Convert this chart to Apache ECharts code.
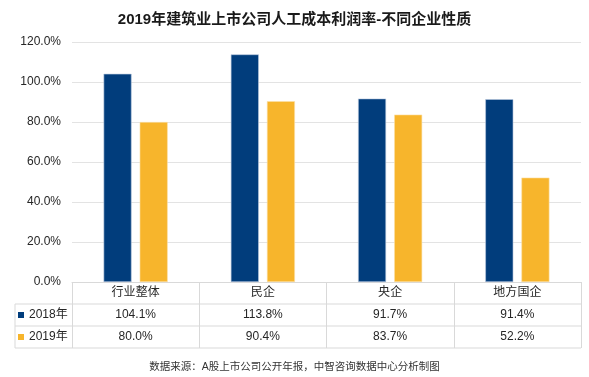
<!DOCTYPE html>
<html>
<head>
<meta charset="utf-8">
<script src="https://cdn.jsdelivr.net/npm/echarts@6/dist/echarts.min.js"></script>
<style>
  html, body { margin: 0; padding: 0; background: #fff; }
  #main { width: 589px; height: 377px; }
</style>
</head>
<body>
<div id="main"></div>
<script>
// chart data
const categories = ['行业整体', '民企', '央企', '地方国企'];
const seriesNames = ['2018年', '2019年'];
const values2018 = [104.1, 113.8, 91.7, 91.4];
const values2019 = [80.0, 90.4, 83.7, 52.2];
const yTicks = [0, 20, 40, 60, 80, 100, 120];

const FONT = "'Liberation Sans', 'Noto Sans CJK SC', sans-serif";
const BLUE = '#013d7c';
const YELLOW = '#f7b52c';
const LINE = '#d9d9d9';

const chart = echarts.init(document.getElementById('main'));

const gridLeft = 72, gridRight = 8, gridTop = 42, gridBottom = 95;
const rowH = 22;

const option = {
  backgroundColor: '#fff',
  animation: false,
  textStyle: { fontFamily: FONT },
  title: [{
    text: '2019年建筑业上市公司人工成本利润率-不同企业性质',
    left: 'center',
    top: 7,
    textStyle: { fontSize: 15, fontWeight: 'bold', color: '#1a1a1a', fontFamily: FONT }
  }, {
    text: '数据来源：A股上市公司公开年报，中智咨询数据中心分析制图',
    left: 'center',
    top: 357,
    textStyle: { fontSize: 10.5, fontWeight: 'normal', color: '#333', fontFamily: FONT }
  }],
  legend: {
    orient: 'vertical',
    left: 18,
    top: 308,
    padding: 0,
    icon: 'rect',
    itemWidth: 6,
    itemHeight: 6,
    itemGap: 8,
    itemStyle: { borderWidth: 0 },
    textStyle: { fontSize: 12, color: '#262626', lineHeight: 14, fontFamily: FONT },
    data: seriesNames
  },
  grid: { left: gridLeft, right: gridRight, top: gridTop, bottom: gridBottom },
  xAxis: {
    type: 'category',
    data: categories,
    axisLine: { show: true, lineStyle: { color: LINE, width: 1 } },
    axisTick: { show: true, length: rowH * 3, interval: 0, lineStyle: { color: LINE, width: 1 } },
    axisLabel: {
      interval: 0,
      margin: 0,
      formatter: function (v, i) {
        return '{c|' + v + '}\n{v|' + values2018[i].toFixed(1) + '%}\n{v|' + values2019[i].toFixed(1) + '%}';
      },
      rich: {
        c: { fontSize: 12, lineHeight: rowH, color: '#262626', fontFamily: FONT },
        v: { fontSize: 12, lineHeight: rowH, color: '#262626', fontFamily: FONT }
      }
    }
  },
  yAxis: {
    type: 'value',
    min: yTicks[0],
    max: yTicks[yTicks.length - 1],
    interval: 20,
    axisLine: { show: false },
    axisTick: { show: false },
    axisLabel: {
      margin: 11,
      fontSize: 12,
      color: '#262626',
      fontFamily: FONT,
      formatter: v => v.toFixed(1) + '%'
    },
    splitLine: { lineStyle: { color: '#e3e3e3', width: 1 } }
  },
  series: [{
    name: seriesNames[0],
    type: 'bar',
    data: values2018,
    barWidth: 28,
    barGap: '29%',
    itemStyle: { color: BLUE, borderColor: '#b8c8dd', borderWidth: 0.6 }
  }, {
    name: seriesNames[1],
    type: 'bar',
    data: values2019,
    barWidth: 28,
    barGap: '29%',
    itemStyle: { color: YELLOW, borderColor: '#fbe0a8', borderWidth: 0.6 }
  }]
};

chart.setOption(option);

// table borders under the plot
const x0 = 15;
const xR = 589 - gridRight;
const yAxisY = 377 - gridBottom;
const lines = [];
for (let r = 1; r <= 3; r++) {
  const y = yAxisY + rowH * r;
  lines.push({ type: 'line', shape: { x1: x0, y1: y, x2: xR, y2: y }, style: { stroke: LINE, lineWidth: 1 } });
}
lines.push({ type: 'line', shape: { x1: x0, y1: yAxisY + rowH, x2: x0, y2: yAxisY + rowH * 3 }, style: { stroke: LINE, lineWidth: 1 } });
chart.setOption({ graphic: lines });
</script>
</body>
</html>
